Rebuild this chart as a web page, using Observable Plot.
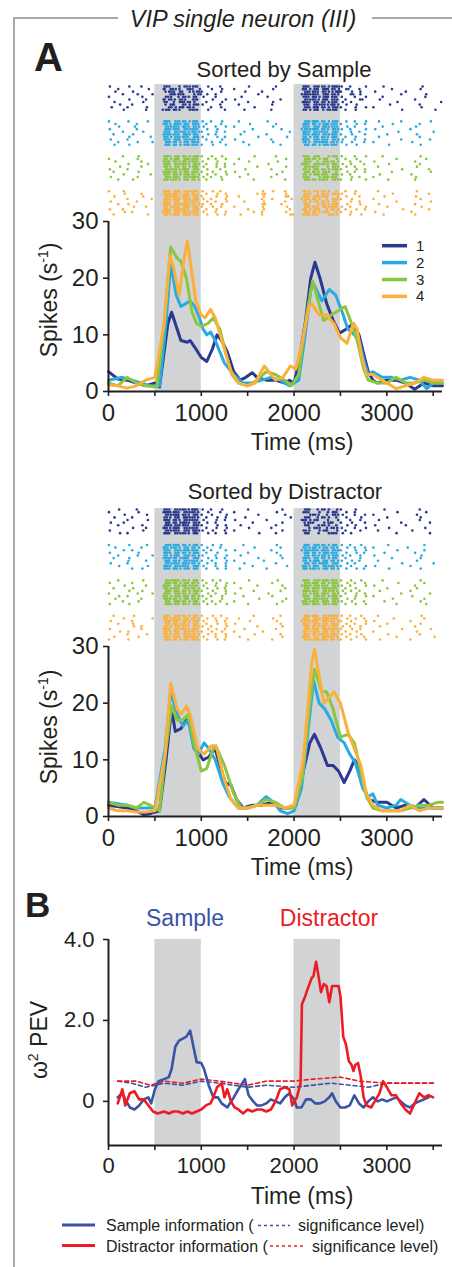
<!DOCTYPE html>
<html>
<head>
<meta charset="utf-8">
<script src="https://cdn.jsdelivr.net/npm/d3@7"></script>
<script src="https://cdn.jsdelivr.net/npm/@observablehq/plot@0.6"></script>
<style>
  html, body { margin: 0; padding: 0; background: #fff; overflow: hidden; }
  #root { position: relative; width: 452px; height: 1267px; background: #fff; }
  .layer { position: absolute; left: 0; }
  .layer svg [aria-label*="axis"] line, .layer svg [aria-label*="axis"] path { stroke-width: 1.6px; }
</style>
</head>
<body>
<div id="root"></div>
<script>
// ---------- colours ----------
const conditionColors = ["#2b3990", "#29abe2", "#8cc63f", "#fbb03b"];
const sampleColor = "#3a53a4";
const distractorColor = "#ed1c24";
const bandColor = "#d1d3d4";

// ---------- epochs (grey bands) ----------
const bandStart = [500, 2000];
const bandEnd = [1000, 2500];

// ---------- axes ----------
const timeTicks = [0, 500, 1000, 1500, 2000, 2500, 3000, 3500];
const timeTickLabels = [0, 1000, 2000, 3000];
const rateTicks = [0, 10, 20, 30];
const pevTicks = [0, 2, 4];
const pevTickLabels = ["0", "2.0", "4.0"];
const conditionLabels = ["1", "2", "3", "4"];

// ---------- PSTHs sorted by sample (time ms, spikes/s) ----------
const sampleRate1 = [[0,3.5],[100,2.2],[200,2],[300,1.5],[400,1],[500,1.5],[550,0.8],[600,7],[640,12],[680,14],[720,12],[780,9],[850,8.7],[880,9],[930,7.8],[1000,6],[1060,5.3],[1120,7.5],[1170,10],[1220,9],[1280,7],[1350,3.5],[1420,2],[1480,2.5],[1550,3.3],[1600,2.5],[1700,2],[1800,2],[1900,1.5],[1950,2],[2000,1.5],[2050,5],[2120,12],[2180,20],[2225,22.8],[2280,20],[2350,15.6],[2420,12.6],[2490,10.3],[2560,11],[2640,12],[2700,10],[2760,6],[2800,3.5],[2850,2],[2900,1.5],[3000,2],[3100,2],[3200,1.5],[3300,0.4],[3400,1.5],[3500,1],[3600,1]];
const sampleRate2 = [[0,2],[150,2.5],[250,2],[350,1.5],[450,1],[550,1],[620,12],[670,22.5],[730,17],[780,15],[830,15.5],[880,16],[930,15],[980,13],[1020,11],[1060,10],[1100,10.5],[1150,9],[1250,5],[1350,3],[1450,1.5],[1550,1.5],[1650,2],[1750,2.5],[1850,2],[1950,1],[2050,2],[2120,10],[2180,18],[2210,19],[2300,16],[2380,18],[2450,17],[2520,14],[2580,11],[2650,10],[2700,9],[2760,5],[2800,3],[2850,3.5],[2950,2.5],[3050,2.5],[3150,2],[3250,2.5],[3350,2],[3430,0.5],[3500,1.5],[3600,1.5]];
const sampleRate3 = [[0,1.5],[100,1],[200,2.5],[300,1.5],[400,1],[520,0.8],[600,12],[670,25.5],[740,23.5],[780,23],[840,20],[900,14],[950,12],[1000,11.5],[1070,12],[1130,13],[1200,11],[1260,7],[1330,3],[1400,1.5],[1500,1],[1600,2],[1700,3.5],[1800,3],[1900,2],[1970,1],[2050,3],[2130,13],[2200,19.5],[2260,16],[2320,12.5],[2400,13.5],[2450,14],[2500,14.5],[2550,15],[2620,12],[2680,9],[2750,4],[2800,2],[2900,1.5],[3000,1.5],[3100,2.5],[3200,1.5],[3300,1.5],[3400,2],[3500,1.5],[3600,1.5]];
const sampleRate4 = [[0,1.2],[100,1],[200,0.6],[300,1],[400,2],[500,2.5],[600,12],[660,24],[700,22],[760,17],[820,24],[850,26.5],[890,22],[940,16],[1000,13.5],[1040,13],[1100,14.5],[1150,13],[1240,8],[1320,3.5],[1400,1.5],[1500,1],[1580,1.5],[1680,4.5],[1750,3],[1800,2],[1880,2.5],[1960,4.5],[2020,4],[2080,8],[2160,15],[2190,15.5],[2270,13.5],[2350,13.5],[2430,12],[2500,9.5],[2570,8.5],[2640,12],[2680,11],[2730,6],[2780,3],[2850,3],[2950,2],[3050,1],[3100,0.5],[3200,1],[3300,1.5],[3400,2.5],[3500,2],[3600,2]];

// ---------- PSTHs sorted by distractor ----------
const distractorRate1 = [[0,2],[200,1.5],[300,1],[380,0.3],[450,0.5],[550,1],[620,10],[680,19],[720,15],[780,15.5],[840,17],[880,16],[930,13],[980,11],[1020,10],[1080,10.5],[1150,12],[1200,9],[1260,6],[1320,5.5],[1380,3],[1450,1.5],[1550,2],[1650,2],[1750,2.5],[1850,1.5],[1950,1.5],[2020,2],[2100,8],[2170,13],[2220,14.5],[2290,12],[2360,9],[2420,9],[2480,8],[2540,6],[2600,8],[2650,10],[2700,9],[2760,5],[2800,3],[2900,2.5],[3000,2.5],[3100,1.5],[3200,2],[3300,1.5],[3400,3],[3500,1.5],[3600,1.5]];
const distractorRate2 = [[0,2.5],[200,2],[300,1.5],[400,1.5],[500,1.5],[610,12],[670,22],[740,18],[800,16],[860,17],[920,12],[970,11],[1030,13],[1080,12],[1150,10],[1230,6],[1300,3.5],[1400,1.5],[1500,1.5],[1600,2],[1700,3.5],[1780,2.5],[1850,1],[1930,0.5],[2000,1],[2080,5],[2150,15],[2210,24],[2270,20],[2330,19],[2400,17],[2470,14],[2540,13],[2600,11],[2660,9.5],[2740,5],[2800,3.5],[2850,4],[2900,2],[3000,1.5],[3100,2],[3150,3],[3250,2],[3350,1.5],[3450,1.5],[3550,1.5],[3600,1.5]];
const distractorRate3 = [[0,2.5],[100,2],[200,2],[300,1.5],[380,2.5],[450,2],[550,1],[620,12],[680,19.5],[740,17],[800,17],[860,18],[920,13],[1000,8],[1060,8.5],[1130,12],[1170,12],[1250,9],[1350,4],[1430,1.5],[1500,1.5],[1600,2],[1700,3],[1800,2.5],[1900,1.5],[2000,1.5],[2090,7],[2170,20],[2220,26],[2300,22],[2350,22],[2420,19],[2500,14],[2580,14.5],[2650,13],[2720,8],[2780,3.5],[2850,1.5],[2950,1],[3050,1],[3150,1],[3250,1.5],[3350,2],[3450,2],[3550,2.5],[3600,2.5]];
const distractorRate4 = [[0,1.5],[100,1],[200,1],[300,0.8],[400,0.8],[500,1],[610,11],[670,23.5],[740,19],[780,18],[840,19.5],[880,18],[960,12],[1030,11],[1110,12.5],[1160,12.5],[1240,7],[1320,3],[1400,1.5],[1500,1.5],[1600,2],[1700,2],[1800,2],[1900,1.5],[2000,2],[2100,10],[2190,27],[2220,29.5],[2280,24],[2320,20],[2380,21],[2430,22],[2500,20],[2580,15],[2650,12],[2720,9],[2780,4],[2850,2],[2950,1],[3050,1],[3150,1],[3250,2],[3350,1],[3450,1.5],[3550,1.5],[3600,1.5]];

// ---------- panel B: omega^2 PEV (time ms, %) ----------
const sampleInfo = [[100,0.1],[150,0.2],[180,0.05],[230,-0.15],[280,-0.2],[330,-0.1],[380,0.05],[430,0.1],[460,-0.05],[500,0.3],[540,0.5],[600,0.55],[650,0.6],[680,0.8],[720,1.35],[760,1.5],[800,1.55],[840,1.6],[880,1.75],[920,1.3],[950,0.97],[1000,0.95],[1030,0.8],[1080,0.4],[1130,0.1],[1180,0.1],[1220,-0.05],[1280,-0.15],[1350,0.1],[1400,0.3],[1470,0.55],[1510,0.15],[1560,0],[1600,-0.1],[1650,-0.1],[1700,-0.05],[1750,0.05],[1800,0],[1850,-0.05],[1900,0.1],[1950,0.2],[2000,0.05],[2030,-0.15],[2080,-0.15],[2130,0.05],[2180,0.05],[2230,-0.05],[2280,-0.05],[2330,0],[2380,0.1],[2410,0.2],[2450,0],[2500,-0.15],[2550,-0.15],[2600,-0.1],[2650,0.15],[2700,-0.05],[2750,-0.15],[2800,0],[2850,0.1],[2900,0],[2950,0.05],[3000,0],[3050,0.05],[3100,0.1],[3150,0],[3200,-0.1],[3250,-0.15],[3300,-0.05],[3350,0],[3400,0.05],[3450,0.1]];
const distractorInfo = [[100,-0.05],[150,0.3],[180,-0.1],[230,0.2],[280,0.25],[330,0.05],[380,0.05],[430,-0.1],[480,-0.25],[530,-0.3],[600,-0.25],[650,-0.3],[700,-0.25],[750,-0.25],[800,-0.3],[850,-0.25],[900,-0.3],[950,-0.25],[1000,-0.2],[1050,-0.1],[1100,-0.05],[1130,0.1],[1170,0.35],[1220,0.45],[1250,0.1],[1280,0.3],[1320,0],[1360,-0.15],[1400,-0.2],[1450,-0.3],[1500,-0.2],[1550,-0.25],[1600,-0.2],[1650,-0.2],[1700,-0.25],[1750,-0.2],[1800,0],[1850,0.3],[1900,0.35],[1950,0.3],[1980,-0.1],[2030,0.1],[2070,0.45],[2085,2.4],[2120,2.6],[2150,2.8],[2190,3.05],[2210,3.1],[2237,3.45],[2260,3.15],[2290,2.7],[2320,2.9],[2350,2.85],[2380,2.45],[2410,2.85],[2450,2.85],[2480,2.85],[2500,2.6],[2530,1.6],[2560,1.4],[2590,1.0],[2620,0.9],[2640,0.75],[2660,0.9],[2690,0.95],[2720,0.6],[2750,0.1],[2780,-0.1],[2830,-0.15],[2870,0],[2920,0.2],[2960,0.5],[3000,0.35],[3050,0.15],[3100,0.15],[3150,-0.05],[3200,-0.2],[3250,-0.3],[3300,-0.05],[3350,0.2],[3400,0.1],[3450,0.15],[3500,0.1]];
const sampleSignificance = [[100,0.5],[250,0.45],[400,0.35],[600,0.45],[800,0.4],[1000,0.5],[1200,0.45],[1500,0.35],[1700,0.4],[2000,0.35],[2200,0.4],[2400,0.45],[2600,0.4],[2800,0.35],[3000,0.45],[3200,0.45],[3500,0.45]];
const distractorSignificance = [[100,0.5],[300,0.5],[450,0.4],[600,0.5],[800,0.45],[1000,0.55],[1200,0.5],[1500,0.4],[1700,0.5],[2000,0.5],[2200,0.55],[2500,0.6],[2700,0.5],[3000,0.45],[3500,0.45]];

// ---------- spike rasters ----------
// One string per trial; segments start at 0,500,600,1000,1300,2000,2100,2500,2800 ms,
// one character per 50 ms bin: "." none, a-e one spike (early..late in bin),
// 2/f/g two spikes, 3/h/k three spikes (different placements within the bin).
const rasterSegmentStart = [0, 500, 600, 1000, 1300, 2000, 2100, 2500, 2800];
const rasterSample1 = [
"b...c..a..|..|fa.bgc2a|.c..a.|....b.....a...|..|hagbfck2|b.a..c|...b.......d....",
"..a.....d.|.e|agcb.fad|..b.c.|.a.......c....|.e|fcgakb2d|.2..a.|.....a.....b....",
".c...b....|..|bfag.cbf|a...b.|...c...a......|..|gbfa2cbh|a.c.b.|.c......a.......",
"...a..b..c|..|.gbfa.cg|.b.a..|......b.......|.d|kcfagb2c|..2.b.|.......a....c...",
"a......b..|..|gc.afbg.|c..a..|..d.....b.....|..|fahcgb2a|b..a.c|...a........b...",
"....c...a.|.e|afbgc.2a|..c..b|.b.........a..|..|gcfbka2b|.a..2.|..c.......a.....",
".b.....c..|..|f.agbfc.|.a..c.|....a....c....|.e|hbgafc2a|c.b...|......b........d",
"..c..a....|..|bga.fcgb|b...a.|..a......b....|..|2agcfbhc|.b.c..|....d......a....",
"d...a...b.|..|.fcgafb.|..a.b.|.....c........|..|gbkafcgb|a..b.c|.a.........c....",
"...b....a.|.d|gafb.cfa|.c...a|...b.....a....|..|fcgab2ga|.a.b..|.......b......c."];
const rasterSample2 = [
"a...b...c.|..|hagbfcka|b.a.c.|..a.....b.....|..|gbhafcgb|.b.a.c|..b....a.....c..",
".c....a...|.e|fbkcga2b|.a..b.|....c.....a...|..|hafcgbfa|a..c.b|.....b.....a....",
"..b..d....|..|gcfahbgc|c..a.b|.a.......c....|..|fagbkc2b|.c.a..|...a......b.....",
"b.....a...|..|kbfagcfa|.b.c..|.....a.....b..|.d|gchafbgc|b.a..c|.c.......a......",
"...a...c..|..|fagcfbhc|a..b.a|...b.........a|..|hbgcfagb|..b.a.|......c.......a.",
".a...b....|.e|gbfakcga|.c.a..|..c.....a.....|..|fahbgc2a|a.c..b|....a.....c.....",
"....c....a|..|hcgbfagb|b..c.a|......b.....c.|..|fcgafbka|.a.b..|..b........a....",
"c...a.....|..|fakbgcfb|.a..c.|.b.......a....|.e|hagbfagc|c..a.b|.......a.....b..",
"..a...b..c|..|gbfcgahb|..b.a.|...a.....c....|..|fbgchafb|b.c..a|.a.......c......",
".b..c.....|..|kafcgbfa|a.c..b|....b......a..|..|gafcgbfa|.b.c..|....c......b...."];
const rasterSample3 = [
"...a..c...|..|hbgafcgb|a.b.c.|.....c....a...|..|fagb.cga|b..a.c|...a.......b....",
"a.....b...|..|fckagbfa|.c.a.b|..a.........b.|..|gbfcga.b|.a.c..|......a.....c...",
".c.....a..|.e|gafbhcfa|b..c..|....b.....c...|..|kc.agbfc|..a.b.|.b........a.....",
"....b...c.|..|hagcfbgc|.a.b.a|.a......c.....|.d|fagcfbga|c.b..a|....c......a....",
"..c....a..|..|fbgafcka|c..b.a|......a.....b.|..|gcfa.bgc|.b.a..|..a.......c.....",
"b...a.....|..|gcfbhagb|.b..a.|...c.....a....|..|fbgafcgb|a..c.b|.......b.....a..",
".a....c...|.e|kbfcgafa|a.c..b|.b.........c..|..|gafbgc.a|.c.a.b|.....a.......c..",
"...b.....a|..|fahcgbfc|.b.a.c|....a.....b...|..|fcgbfagb|b.a...|..c......b......",
"c.....b...|..|gbfagchb|c.a.b.|..b......a....|..|fa.cgbfa|..c.a.|.a........b.....",
"..a..b....|..|hcfbgafc|.a..c.|.....b......a.|..|gbfcfagc|a.b..c|....b.....a....."];
const rasterSample4 = [
"a..b......|..|hakbgcfa|b.c.a.|.......b.c..a.|..|fbgafc.a|.a.b..|..a.......c......",
"...c...a..|.e|gbhckafb|.a.c.b|......a2....b.|..|gc.afbgc|b..a..|.....b.......a..",
".b.....c..|..|kcfahbga|a..b.c|..a....c....2.|..|fagbfa.c|.b..a.|...c......b.....",
"....a....b|..|fahbkcgb|c.a..b|.......a.b...c|.d|gbfc.agb|a.c...|.a.........b....",
"c.....a...|..|hbkagcfa|.b.a.c|...b...c....a.|..|fcgafbga|..b.a.|......a......c..",
"..a.b.....|.e|kagchbfc|b.a.c.|.......2...b..|..|ga.bfcgb|.c..b.|..b.......a.....",
".....c..a.|..|fchakbga|a.c.b.|.a.....b....c.|..|gbfagcfa|b.a..c|....a......c....",
"b..a......|..|hbkcfagb|.a.b..|....a..c.....a|..|fcgb.afc|.a.c.b|.......c.....a..",
"...c.a....|.d|kagbhcfa|c..a.b|.....b.a....b.|..|gafcgb.a|a.b...|.c.......b......",
".a......c.|..|fbhakcgb|.b.c.a|..c....a.....2|.e|gbfa.cfb|..a.c.|...b......a....."];
const rasterDistractor1 = [
"..b...a...|..|fagcfbha|b.a.c.|....a......c..|..|gb.afc.b|a..b..|...c.......a....",
"a.....c...|.e|kbfagcfb|.c..a.|.a........b...|..|fa.c.bga|.b.a..|......b.....c...",
"...c....b.|..|gchafbga|a.b..c|......b.....a.|..|.cfb.agc|c..a.b|.a........c.....",
".b...a....|..|fbgakcfb|.a.c.b|...c.........b|..|gb.afc.a|.b..c.|....a......b....",
"....a...c.|..|hafbgcfa|c..b.a|.b......a.....|.d|fcga.b.c|..a.b.|..b........a....",
"c..b......|..|gafchbgc|.b.a..|.....a.....c..|..|bfa.cgb.|a.c..b|.......a.....b..",
"..a....b..|..|kcgbfagb|a..c.b|..c.......a...|..|ga.bfc.a|.c.b..|.c......a.......",
".....b..a.|.e|fbhagcfa|.a.b.c|....b....a....|..|.bgc.afb|b..a.c|....c.......b...",
"b......c..|..|gcfagbkc|b.c..a|.a.........c..|..|fb.cga.b|.a..b.|..a......c......",
"..c.a.....|..|hagcfbga|.c.a.b|......c...a...|..|ga.b.cfa|c.b...|......a......b.."];
const rasterDistractor2 = [
"a...c...b.|..|gbhafcga|a.c.b.|...a......b...|..|kagbfcga|b.a.c.|....b.......a...",
".c.....a..|.e|hcfbgafc|.b..a.|.....c.....a..|..|fbhcgafb|.c.a.b|.a......c.......",
"...b.a....|..|fagckbfa|c.a..b|.b.......a....|.d|gcfahbgc|a..b.c|......b.....a...",
"b.....c...|..|hbgafcgb|.a.c..|....a.....b...|..|kafcgbfa|.b.c.a|...c......a.....",
"..a...b..c|..|fckagbfc|b..a.c|..c........a..|..|gafbhcgb|c.a.b.|.b.........c....",
".a..c.....|.e|gbfchagb|.c.b.a|......b....c..|..|hbgafcga|.a..b.|.....a.....b....",
"....b...a.|..|kafbgcfa|a.b..c|.a.....c......|..|fckbgafc|b.c.a.|..a.......c.....",
"c...a.....|..|gcfahbfc|.b.a.b|...b......a...|..|gafchagb|.c.a..|.......b......a.",
"..b.....c.|..|hbgcfagb|c..a.b|.....a......c.|.e|fbkagcfb|a.b..c|.c.......a......",
".....a.b..|..|fahcgbga|.a.c.b|..b.....a.....|..|hcfbgafc|.b.c.a|....c......b...."];
const rasterDistractor3 = [
"..a....c..|..|gchafbga|b.c.a.|....b.....c...|..|hagckbfa|a.b.c.|...a.......b....",
"b....a....|..|kbfcgafb|.a.b.c|.a.......b....|..|gbhafckb|.c.a.b|......c.....a...",
"...c....a.|.e|fagbhcfa|c..a.b|......a....c..|.d|kcgbfagc|b.a..c|.b........a.....",
".a...b....|..|hcfagbfc|.b.c.a|..c.........a.|..|gahbkcfa|.a.b..|....a.....c.....",
"....c..b..|..|gbkafcgb|a.c..b|.....b.....a..|..|hbfagcfb|c.b.a.|..c......a......",
"a.....b..c|..|hagbfcga|.c.a.b|.b......c.....|..|fckahbgc|.a.c.b|.......a.....b..",
"..b.a.....|.e|fcgbkafc|b.a.c.|...a.....b....|..|hagbfcka|a..b.c|.a.......c......",
".c.....a..|..|hbfcgafb|.a..c.|......c.....b.|..|gbkcfagb|.c.a..|.....b......a...",
"...a..c...|..|gakbfcga|c.b.a.|.a.........c..|.e|hcfakbgc|b.c..a|...c.......b....",
"b...c.....|..|kcgafbgc|.b.a.c|....a.....b...|..|fahbgcka|.a.b.c|......a.....c..."];
const rasterDistractor4 = [
".a...c....|..|hagbfcga|a.c.b.|.....b.....a..|..|kbhagchb|b.a.c.|..a........c....",
"...b.....c|.e|fchbgafc|.b.a.c|..a......c....|..|hagckbfa|.c.b.a|.....c......a...",
"c....a....|..|kbfahcgb|c..b.a|....c.....b...|.d|gchakbfc|a.b..c|.b.......a......",
"..a..b....|..|gahcfbga|.a.c.b|.b.........a..|..|hbkcgahb|.b.a.c|....a......b....",
".....c.a..|..|hcgbfagc|b.a..c|......a....c..|..|kafbhcga|c.a.b.|..c.......a.....",
"b......a..|.e|kagcfbha|.c.b.a|...b......a...|..|gbhakchb|a.c.b.|.......b.....c..",
"..c.b.....|..|fbkagcfb|a.b.c.|.a.....b......|..|hckbgafc|.a.c..|.a........c.....",
"....a...b.|..|hcgakbfc|.c.a.b|.....c.....a..|..|kafchbha|b.a.c.|....b......a....",
".b....c...|..|fahbgcfa|c..a.b|..b........c..|.e|hbgakcfb|.b.c.a|......a.......b.",
"a...b.....|..|kbfcgahb|.b.c.a|....a....b....|..|gckbhafc|a.b..c|..c......a......"];

// ---------- helpers ----------
const FONT = "'Liberation Sans', Arial, Helvetica, sans-serif";
const bands = bandStart.map((s, i) => ({start: s, end: bandEnd[i]}));
const binOffsets = {".": [], a: [5], b: [15], c: [25], d: [35], e: [45],
  "2": [12, 37], f: [4, 28], g: [20, 44], "3": [8, 25, 42], h: [3, 19, 36], k: [14, 31, 47]};
const GROUP_PITCH = 13.5;

function decodeRaster(groups) {
  const spikes = [];
  groups.forEach((rows, g) => rows.forEach((row, r) => {
    row.split("|").forEach((seg, k) => {
      [...seg].forEach((ch, i) => {
        (binOffsets[ch] || []).forEach(o => spikes.push({t: rasterSegmentStart[k] + i * 50 + o, row: g * GROUP_PITCH + r, g}));
      });
    });
  }));
  return spikes;
}

const root = document.getElementById("root");
function place(node, top) {
  const div = document.createElement("div");
  div.className = "layer";
  div.style.top = top + "px";
  div.appendChild(node);
  root.appendChild(div);
}

function rasterPlot(groups, height, yRange) {
  return Plot.plot({
    width: 452, height, marginTop: 4, marginBottom: 0, marginLeft: 108, marginRight: 10,
    style: {background: "transparent", overflow: "visible"},
    x: {domain: [0, 3600], axis: null},
    y: {domain: [0, 3 * GROUP_PITCH + 9], range: yRange, axis: null},
    color: {type: "ordinal", domain: [0, 1, 2, 3], range: conditionColors},
    marks: [
      Plot.rect(bands, {x1: "start", x2: "end", fill: bandColor}),
      Plot.dot(decodeRaster(groups), {x: "t", y: "row", r: 1.3, fill: "g"})
    ]
  });
}

const timeFormat = d => timeTickLabels.includes(d) ? String(d) : "";

function psthPlot(series) {
  return Plot.plot({
    width: 452, height: 250, marginTop: 10, marginBottom: 70, marginLeft: 108, marginRight: 10,
    style: {background: "transparent", overflow: "visible", fontFamily: FONT, fontSize: "24px", color: "#231f20"},
    x: {domain: [0, 3600], ticks: timeTicks, tickFormat: timeFormat, tickSize: 5, tickPadding: 7, label: null},
    y: {domain: [0, 30], ticks: rateTicks, tickSize: 5, tickPadding: 5, label: null},
    marks: [
      Plot.rect(bands, {x1: "start", x2: "end", fill: bandColor}),
      ...series.map((s, i) => Plot.line(s, {x: d => d[0], y: d => d[1], stroke: conditionColors[i], strokeWidth: 3, strokeLinejoin: "round", strokeLinecap: "round"})),
      Plot.ruleX([0], {strokeWidth: 2}),
      Plot.ruleY([0], {strokeWidth: 2})
    ]
  });
}

const pevDomain = [-1.09, 4];
function pevPlot() {
  return Plot.plot({
    width: 452, height: 281, marginTop: 10, marginBottom: 65, marginLeft: 108, marginRight: 10,
    style: {background: "transparent", overflow: "visible", fontFamily: FONT, fontSize: "22px", color: "#231f20"},
    x: {domain: [0, 3600], ticks: timeTicks, tickFormat: timeFormat, tickSize: 5, tickPadding: 7, label: null},
    y: {domain: pevDomain, ticks: pevTicks, tickFormat: d => pevTickLabels[pevTicks.indexOf(d)], tickSize: 5, tickPadding: 9, label: null},
    marks: [
      Plot.rect(bands, {x1: "start", x2: "end", fill: bandColor}),
      Plot.line(sampleSignificance, {x: d => d[0], y: d => d[1], stroke: sampleColor, strokeWidth: 1.6, strokeDasharray: "4,3"}),
      Plot.line(distractorSignificance, {x: d => d[0], y: d => d[1], stroke: distractorColor, strokeWidth: 1.6, strokeDasharray: "4,3"}),
      Plot.line(sampleInfo, {x: d => d[0], y: d => d[1], stroke: sampleColor, strokeWidth: 2.6, strokeLinejoin: "round"}),
      Plot.line(distractorInfo, {x: d => d[0], y: d => d[1], stroke: distractorColor, strokeWidth: 2.6, strokeLinejoin: "round"}),
      Plot.ruleX([0], {strokeWidth: 2}),
      Plot.ruleY([pevDomain[0]], {strokeWidth: 2})
    ]
  });
}

place(rasterPlot([rasterSample1, rasterSample2, rasterSample3, rasterSample4], 141, [6, 134]), 80);
place(psthPlot([sampleRate1, sampleRate2, sampleRate3, sampleRate4]), 211);
place(rasterPlot([rasterDistractor1, rasterDistractor2, rasterDistractor3, rasterDistractor4], 142, [5, 135]), 504);
place(psthPlot([distractorRate1, distractorRate2, distractorRate3, distractorRate4]), 636);
place(pevPlot(), 929);

// ---------- overlay: frame, titles, labels, legends ----------
const ov = d3.select(root).append("svg")
  .attr("width", 452).attr("height", 1267)
  .style("position", "absolute").style("left", 0).style("top", 0)
  .style("pointer-events", "none")
  .attr("font-family", FONT).attr("fill", "#231f20");

const frameColor = "#a7a9ac";
ov.append("line").attr("x1", 14).attr("x2", 14).attr("y1", 17).attr("y2", 1267).attr("stroke", frameColor).attr("stroke-width", 2);
ov.append("line").attr("x1", 13).attr("x2", 118).attr("y1", 18).attr("y2", 18).attr("stroke", frameColor).attr("stroke-width", 2);
ov.append("line").attr("x1", 372).attr("x2", 452).attr("y1", 18).attr("y2", 18).attr("stroke", frameColor).attr("stroke-width", 2);

function text(str, x, y, size, opts = {}) {
  const t = ov.append("text").attr("x", x).attr("y", y).attr("font-size", size)
    .attr("text-anchor", opts.anchor || "start").text(str);
  if (opts.italic) t.attr("font-style", "italic");
  if (opts.bold) t.attr("font-weight", "bold");
  if (opts.fill) t.attr("fill", opts.fill);
  return t;
}

text("VIP single neuron (III)", 243, 26.5, 23.5, {anchor: "middle", italic: true});
text("A", 34, 71, 40, {bold: true});
text("Sorted by Sample", 284, 77, 22, {anchor: "middle"});
text("Sorted by Distractor", 285, 499, 22, {anchor: "middle"});
text("B", 25, 917, 35, {bold: true});
text("Sample", 185, 926, 23, {anchor: "middle", fill: sampleColor});
text("Distractor", 329, 926, 23, {anchor: "middle", fill: distractorColor});

// axis titles
[450, 875, 1203.5].forEach(y => text("Time (ms)", 302, y, 23, {anchor: "middle"}));
function spikesLabel(cy) {
  const t = ov.append("text").attr("x", 57).attr("y", cy).attr("font-size", 23)
    .attr("text-anchor", "middle").attr("transform", `rotate(-90 57 ${cy})`);
  t.append("tspan").text("Spikes (s");
  t.append("tspan").attr("font-size", 14).attr("dy", -9).text("-1");
  t.append("tspan").attr("dy", 9).text(")");
}
spikesLabel(300);
spikesLabel(727);
{
  const t = ov.append("text").attr("x", 47).attr("y", 1040).attr("font-size", 23)
    .attr("text-anchor", "middle").attr("transform", "rotate(-90 47 1040)");
  t.append("tspan").text("ω");
  t.append("tspan").attr("font-size", 14).attr("dy", -9).text("2");
  t.append("tspan").attr("dy", 9).text(" PEV");
}

// condition legend (panel A)
conditionLabels.forEach((lab, i) => {
  const y = 245.7 + i * 16.9;
  ov.append("line").attr("x1", 382).attr("x2", 407).attr("y1", y).attr("y2", y)
    .attr("stroke", conditionColors[i]).attr("stroke-width", 3.5);
  text(lab, 416, y + 5, 15);
});

// panel B legend
const legendRows = [
  {color: sampleColor, label: "Sample information (", dash: [258, 290], rest: 298, y: 1225},
  {color: distractorColor, label: "Distractor information (", dash: [270, 303], rest: 312, y: 1245.5}
];
legendRows.forEach(r => {
  ov.append("line").attr("x1", 62).attr("x2", 95).attr("y1", r.y).attr("y2", r.y).attr("stroke", r.color).attr("stroke-width", 3);
  text(r.label, 106, r.y + 6, 16);
  ov.append("line").attr("x1", r.dash[0]).attr("x2", r.dash[1]).attr("y1", r.y + 0.5).attr("y2", r.y + 0.5)
    .attr("stroke", r.color).attr("stroke-width", 1.5).attr("stroke-dasharray", "3,3");
  text("significance level)", r.rest, r.y + 6, 16);
});
</script>
</body>
</html>
